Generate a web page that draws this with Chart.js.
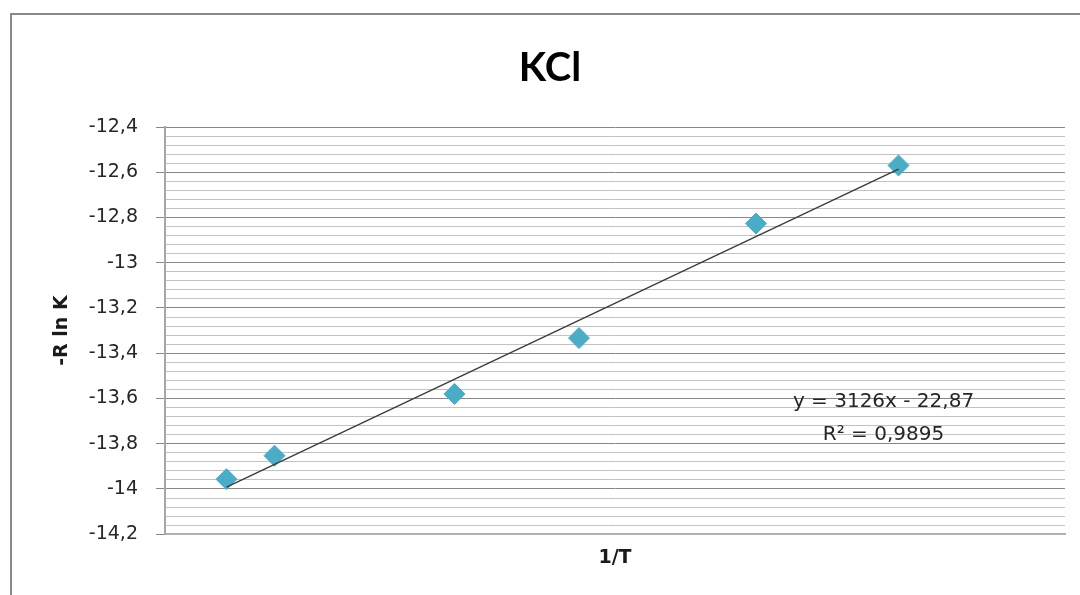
<!DOCTYPE html>
<html>
<head>
<meta charset="utf-8">
<title>KCl</title>
<script src="https://cdn.jsdelivr.net/npm/chart.js@4.4.1/dist/chart.umd.min.js"></script>
<style>
    html, body { margin: 0; padding: 0; background: #fff; overflow: hidden; }
    #wrap { position: absolute; left: 0; top: 0; width: 1100px; height: 595px; }
    #frame { position: absolute; left: 10px; top: 13px; width: 1200px; height: 700px; border: 2px solid #888; pointer-events: none; }
</style>
</head>
<body>
<div id="frame"></div>
<div id="wrap"><canvas id="chart"></canvas></div>
<script>
const invT = [0.002841, 0.002873, 0.002993, 0.003076, 0.003194, 0.003289];
const minusRlnK = [-13.957, -13.853, -13.58, -13.333, -12.827, -12.57];

const trendX = [0.002841, 0.003289];
const trendY = [-13.992, -12.586];

// Gleichung der Trendlinie
const eqLines = ["y = 3126x - 22,87", "R\u00b2 = 0,9895"];

// Achsen
const xRange = [0.0028, 0.0034];
const yRange = [-14.2, -12.4];
const yMajorStep = 0.2;
const yMinorStep = 0.04;

const isMajor = (v) => Math.abs(v / yMajorStep - Math.round(v / yMajorStep)) < 1e-6;
const fmt = (v) => String(Number(v.toFixed(1))).replace(".", ",");

// Text der Trendlinie rechts neben den Punkten
const equationLabel = {
    id: "equationLabel",
    afterDatasetsDraw(chart) {
        const { ctx, scales } = chart;
        const x = scales.x.getPixelForValue(0.003279);
        const ys = [-13.614, -13.761].map(v => scales.y.getPixelForValue(v));
        ctx.save();
        ctx.font = "20px 'DejaVu Sans'";
        ctx.fillStyle = "#262626";
        ctx.textAlign = "center";
        ctx.textBaseline = "middle";
        eqLines.forEach((t, i) => ctx.fillText(t, x, ys[i]));
        ctx.restore();
    }
};

new Chart(document.getElementById("chart"), {
    type: "scatter",
    data: {
        datasets: [
            {
                type: "line",
                label: "Trend",
                data: trendX.map((x, i) => ({ x, y: trendY[i] })),
                borderColor: "#3a3a3a",
                borderWidth: 1.3,
                pointRadius: 0,
                fill: false,
            },
            {
                label: "KCl",
                data: invT.map((x, i) => ({ x, y: minusRlnK[i] })),
                pointStyle: "rectRot",
                pointRadius: 10.5,
                backgroundColor: "#4BACC6",
                borderColor: "#4BACC6",
                borderWidth: 1,
            },
        ],
    },
    options: {
        responsive: true,
        maintainAspectRatio: false,
        animation: false,
        layout: { padding: { left: 35, right: 35, top: 0, bottom: 26 } },
        plugins: {
            legend: { display: false },
            tooltip: { enabled: false },
            title: {
                display: true,
                text: "KCl",
                color: "#000",
                font: { family: "Lato", size: 40, weight: "bold", lineHeight: 1.2 },
                padding: { top: 44, bottom: 35 },
            },
        },
        scales: {
            x: {
                type: "linear",
                min: xRange[0],
                max: xRange[1],
                ticks: { display: false },
                grid: { display: false, drawTicks: false },
                border: { display: true, color: "#b0b0b0", width: 2 },
                title: {
                    display: true,
                    text: "1/T",
                    color: "#1a1a1a",
                    font: { family: "DejaVu Sans", size: 19, weight: "bold", lineHeight: 1.2 },
                    padding: { top: 12, bottom: 0 },
                },
            },
            y: {
                type: "linear",
                min: yRange[0],
                max: yRange[1],
                afterFit: (scale) => { scale.width = 130; },
                ticks: {
                    stepSize: yMinorStep,
                    autoSkip: false,
                    padding: 18,
                    color: "#262626",
                    font: { family: "DejaVu Sans", size: 19 },
                    callback: (v) => (isMajor(v) ? fmt(v) : ""),
                },
                grid: {
                    color: (c) => (isMajor(c.tick.value) ? "#888888" : "#c2c2c2"),
                    tickColor: (c) => (isMajor(c.tick.value) ? "#888888" : "rgba(0,0,0,0)"),
                    lineWidth: 1,
                    tickLength: 9,
                },
                border: { display: true, color: "#a6a6a6", width: 2 },
                title: {
                    display: true,
                    text: "-R ln K",
                    color: "#1a1a1a",
                    font: { family: "DejaVu Sans", size: 19, weight: "bold", lineHeight: 1.2 },
                    padding: { top: 16, bottom: 0 },
                },
            },
        },
    },
    plugins: [equationLabel],
});
</script>
</body>
</html>
